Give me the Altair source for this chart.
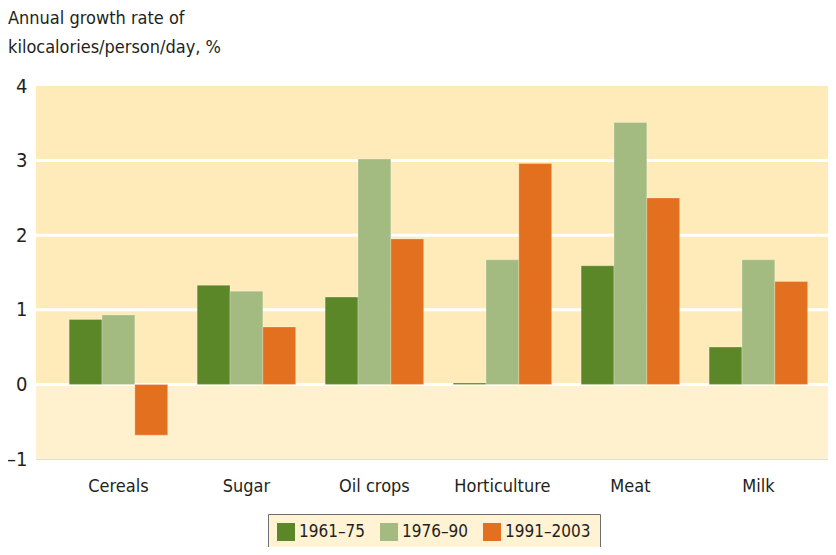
import altair as alt
import pandas as pd

categories = ["Cereals", "Sugar", "Oil crops", "Horticulture", "Meat", "Milk"]
periods = ["1961–75", "1976–90", "1991–2003"]
v_1961_75 = [0.87, 1.33, 1.17, 0.02, 1.59, 0.50]
v_1976_90 = [0.93, 1.25, 3.02, 1.67, 3.51, 1.67]
v_1991_2003 = [-0.68, 0.77, 1.95, 2.96, 2.50, 1.38]
colors = ["#5B8729", "#A3BA81", "#E3701F"]
y_ticks = [-1, 0, 1, 2, 3, 4]
grid_values = [0, 1, 2, 3]

FONT = "Liberation Sans Narrow, DejaVu Sans Condensed, sans-serif"
TXT = "#231F20"

rows = []
for series, vals in zip(periods, [v_1961_75, v_1976_90, v_1991_2003]):
    for c, v in zip(categories, vals):
        rows.append({"category": c, "period": series, "value": v})
df = pd.DataFrame(rows)

bg = pd.DataFrame({"y0": [0, -1], "y1": [4, 0], "fill": ["#FFEBBA", "#FFF1CD"]})
grid = pd.DataFrame({"g": grid_values})

W, H = 792, 373

yscale = alt.Scale(domain=[-1, 4], nice=False, zero=False)

back = alt.Chart(bg).mark_rect().encode(
    x=alt.value(0), x2=alt.value(W),
    y=alt.Y("y0:Q", scale=yscale, axis=alt.Axis(values=y_ticks, title=None, grid=False,
            domain=False, ticks=False, labelFont=FONT, labelFontSize=20, labelColor=TXT,
            labelPadding=9, format="d",
            labelExpr="datum.value < 0 ? '–' + abs(datum.value) : datum.label")),
    y2="y1:Q",
    fill=alt.Fill("fill:N", scale=None),
)

rules = alt.Chart(grid).mark_rule(color="white", strokeWidth=3).encode(
    x=alt.value(0), x2=alt.value(W),
    y=alt.Y("g:Q", scale=yscale),
)

bars = alt.Chart(df).mark_bar(stroke="#ffffff", strokeOpacity=0.25, strokeWidth=1).encode(
    x=alt.X("category:N", sort=categories,
            scale=alt.Scale(paddingInner=0.23, paddingOuter=0.209, align=0.62),
            axis=alt.Axis(title=None, labelAngle=0, domain=False, ticks=False,
                          labelFont=FONT, labelFontSize=18, labelColor=TXT, labelPadding=18)),
    xOffset=alt.XOffset("period:N", sort=periods, scale=alt.Scale(paddingInner=0, paddingOuter=0)),
    y=alt.Y("value:Q", scale=yscale),
    y2=alt.datum(0),
    color=alt.Color("period:N", sort=periods,
                    scale=alt.Scale(domain=periods, range=colors),
                    legend=alt.Legend(title=None, orient="none", legendX=232, legendY=428,
                                      direction="horizontal", symbolType="square",
                                      symbolSize=324, symbolStrokeWidth=0,
                                      labelFont=FONT, labelFontSize=17, labelColor=TXT,
                                      columnPadding=14, padding=9,
                                      strokeColor="#6D6E70", fillColor="#FFF3D4")),
)

chart = alt.layer(back, rules, bars).properties(
    width=W, height=H,
    padding={"left": 28, "top": 78, "right": 0, "bottom": 88},
    autosize=alt.AutoSizeParams(type="none"),
    title=alt.TitleParams(
        text=["Annual growth rate of", "kilocalories/person/day, %"],
        anchor="start", frame="group", dx=-28, offset=19,
        font=FONT, fontSize=18, fontWeight="normal", color=TXT, lineHeight=29,
    ),
).configure_view(stroke=None).configure(background="white")

chart.save("out.html", embed_options={"renderer": "svg", "actions": False})
